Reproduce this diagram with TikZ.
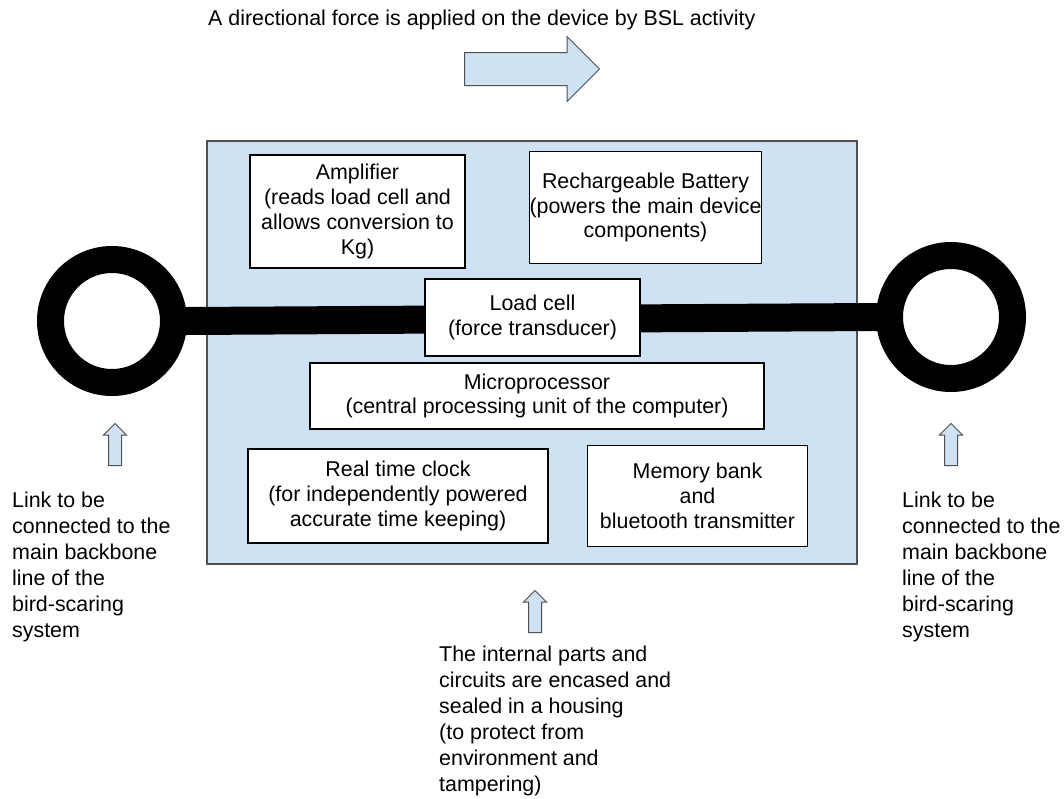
\documentclass[tikz,border=0pt]{standalone}
\usepackage{fontspec}
\setmainfont{Liberation Sans}
\usepackage{tikz}
\usetikzlibrary{shapes.arrows}
\definecolor{skyfill}{RGB}{207,226,243}
\definecolor{edgegray}{RGB}{80,80,80}
\tikzset{
	housing/.style={% sealed casing round the parts
		draw=edgegray, fill=skyfill,
		line width=1.3pt,
		inner sep=0pt
	},
	part/.style={% one component inside the casing
		draw, fill=white,
		line width=1.8pt,
		inner sep=0pt,
		align=center
	},
	ring/.style={
		draw, shape=circle, fill=white,
		line width=27pt,
		minimum size=123pt,
		inner sep=0pt
	},
	blockarrow/.style={
		single arrow, draw=edgegray, fill=skyfill,
		line width=1pt,
		single arrow tip angle=90,
		anchor=tail
	},
	uparrow/.style={
		blockarrow, shape border rotate=90,
		inner sep=6pt,
		single arrow head extend=5pt,
		minimum width=22pt, minimum height=42pt
	},
	note/.style={align=left, inner sep=0pt, anchor=base west,
		font=\fontsize{21.4}{25.9}\selectfont}
}
\begin{document}
\begin{tikzpicture}[x=1pt, y=-1pt, font=\fontsize{21.4}{24.8}\selectfont]
	\useasboundingbox (0,0) rectangle (1064,798);
	% casing and the two links
	\node [housing, minimum width=650pt, minimum height=423pt] (housing) at (532,352.5) {};
	\node [ring] (lring) at (112,321) {};
	\node [ring] (rring) at (951,317) {};
	\draw [line width=28pt, shorten <=-4pt, shorten >=-4pt] (lring.east) -- (rring.west);
	% parts inside the casing
	\node [part, minimum width=215pt, minimum height=113pt] (amp) at (357.5,211.5) {Amplifier\\(reads load cell and\\allows conversion to\\Kg)};
	\node [part, minimum width=222pt, minimum height=112pt] (battery) at (645.5,207.5) {Rechargeable Battery\\(powers the main device\\components)};
	\node [part, minimum width=215pt, minimum height=77pt] (loadcell) at (532.5,317.5) {Load cell\\(force transducer)};
	\node [part, minimum width=454pt, minimum height=66pt] (cpu) at (537,396) {Microprocessor\\(central processing unit of the computer)};
	\node [part, minimum width=300pt, minimum height=94pt] (clock) at (398,496) {Real time clock\\(for independently powered\\accurate time keeping)};
	\node [part, minimum width=220pt, minimum height=101pt] (memory) at (697.5,496) {Memory bank\\and\\bluetooth transmitter};
	% block arrows
	\node [blockarrow, inner xsep=0pt, inner ysep=16pt, single arrow head extend=16pt, minimum width=64pt, minimum height=135pt] (force) at (464,69) {};
	\node [uparrow] (lup) at (115,466) {};
	\node [uparrow] (rup) at (951,466) {};
	\node [uparrow] (hup) at (535,633) {};
	% texts (base is the last line)
	\node [note] (title) at (208,25) {A directional force is applied on the device by BSL activity};
	\node [note] (lnote) at (12,637) {Link to be\\connected to the\\main backbone\\line of the\\bird-scaring\\system};
	\node [note] (rnote) at (902,637) {Link to be\\connected to the\\main backbone\\line of the\\bird-scaring\\system};
	\node [note] (hnote) at (439,791) {The internal parts and\\circuits are encased and\\sealed in a housing\\(to protect from\\environment and\\tampering)};
\end{tikzpicture}
\end{document}
